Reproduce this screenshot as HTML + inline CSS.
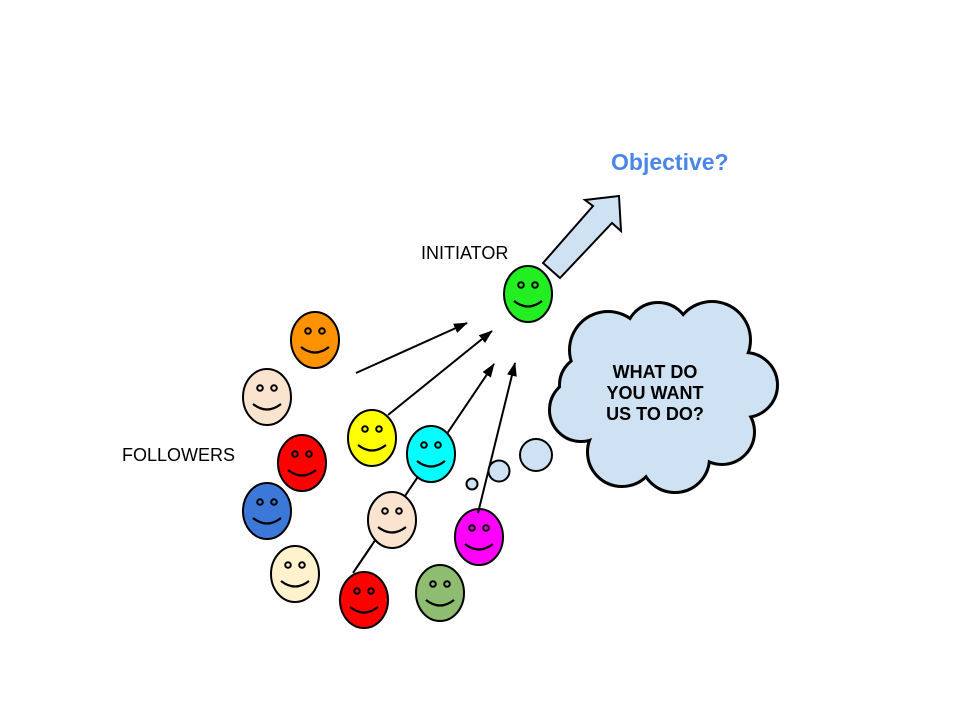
<!DOCTYPE html>
<html><head><meta charset="utf-8"><style>
body{margin:0;background:#fff;}
svg{display:block;}
text{font-family:"Liberation Sans",sans-serif;}
</style></head><body>
<svg width="960" height="720" viewBox="0 0 960 720">
<defs>
<marker id="ah" markerWidth="14" markerHeight="12" refX="13" refY="6" orient="auto" markerUnits="userSpaceOnUse" viewBox="0 0 14 12">
<path d="M0,1 L14,6 L0,11 z" fill="#000"/></marker>
<g id="face">
<circle cx="-7" cy="-9" r="2.8" fill="none" stroke="#000" stroke-width="2"/>
<circle cx="7" cy="-9" r="2.8" fill="none" stroke="#000" stroke-width="2"/>
<path d="M-14,7 Q0,18 14,7" fill="none" stroke="#000" stroke-width="2.2"/>
</g>
</defs>
<text x="611" y="170" font-size="23" font-weight="bold" fill="#4a86e8">Objective?</text>
<text x="421" y="259" font-size="18" fill="#000">INITIATOR</text>
<text x="122" y="461" font-size="18" fill="#000">FOLLOWERS</text>

<polygon points="543,263 560,278 612,223 621,231 619,196 585,200 593,206" fill="#cfe2f3" stroke="#000" stroke-width="2" stroke-linejoin="miter"/>

<line x1="356" y1="373" x2="467" y2="323" stroke="#000" stroke-width="2" marker-end="url(#ah)"/>
<line x1="388" y1="415" x2="492" y2="331" stroke="#000" stroke-width="2" marker-end="url(#ah)"/>
<line x1="353" y1="573" x2="494" y2="364" stroke="#000" stroke-width="2" marker-end="url(#ah)"/>

<g stroke="#000" stroke-width="2">
<ellipse cx="528" cy="294" rx="24" ry="28" fill="#22ee22"/>
<ellipse cx="315" cy="340" rx="24" ry="28" fill="#ff9200"/>
<ellipse cx="267" cy="397" rx="24" ry="28" fill="#fbe4cf"/>
<ellipse cx="372" cy="438" rx="24" ry="28" fill="#ffff00"/>
<ellipse cx="302" cy="463" rx="24" ry="28" fill="#ff0000"/>
<ellipse cx="431" cy="454" rx="24" ry="28" fill="#00ffff"/>
<ellipse cx="267" cy="511" rx="24" ry="28" fill="#3c78d8"/>
<ellipse cx="392" cy="520" rx="24" ry="28" fill="#fbe4cf"/>
<ellipse cx="295" cy="574" rx="24" ry="28" fill="#fff2cc"/>
<ellipse cx="364" cy="600" rx="24" ry="28" fill="#ff0000"/>
<ellipse cx="440" cy="593" rx="24" ry="28" fill="#8ebc70"/>
<ellipse cx="479" cy="537" rx="24" ry="28" fill="#ff00ff"/>
</g>
<use href="#face" x="528" y="294"/><use href="#face" x="315" y="340"/><use href="#face" x="267" y="397"/>
<use href="#face" x="372" y="438"/><use href="#face" x="302" y="463"/><use href="#face" x="431" y="454"/>
<use href="#face" x="267" y="511"/><use href="#face" x="392" y="520"/><use href="#face" x="295" y="574"/>
<use href="#face" x="364" y="600"/><use href="#face" x="440" y="593"/><use href="#face" x="479" y="537"/>
<line x1="355" y1="570" x2="372" y2="545" stroke="#000" stroke-width="2"/>
<line x1="478" y1="513" x2="515" y2="363" stroke="#000" stroke-width="2" marker-end="url(#ah)"/>

<g fill="#cfe2f3" stroke="#000" stroke-width="2">
<circle cx="472" cy="484" r="5.5"/>
<circle cx="499" cy="471" r="10.5"/>
<circle cx="536" cy="455" r="16"/>
</g>
<g fill="#cfe2f3" stroke="#000" stroke-width="4">
<circle cx="608" cy="350" r="38"/><circle cx="658" cy="335" r="32"/><circle cx="712" cy="340" r="38"/>
<circle cx="745" cy="385" r="32"/><circle cx="722" cy="432" r="32"/><circle cx="675" cy="458" r="34"/>
<circle cx="622" cy="452" r="34"/><circle cx="581" cy="410" r="31"/><circle cx="590" cy="385" r="30"/>
</g>
<g fill="#cfe2f3">
<circle cx="608" cy="350" r="37"/><circle cx="658" cy="335" r="31"/><circle cx="712" cy="340" r="37"/>
<circle cx="745" cy="385" r="31"/><circle cx="722" cy="432" r="31"/><circle cx="675" cy="458" r="33"/>
<circle cx="622" cy="452" r="33"/><circle cx="581" cy="410" r="30"/><circle cx="590" cy="385" r="29"/>
<circle cx="662" cy="398" r="60"/>
</g>
<g font-size="18" font-weight="bold" text-anchor="middle" fill="#000">
<text x="655" y="378">WHAT DO</text>
<text x="655" y="399">YOU WANT</text>
<text x="655" y="420">US TO DO?</text>
</g>
</svg>
</body></html>
